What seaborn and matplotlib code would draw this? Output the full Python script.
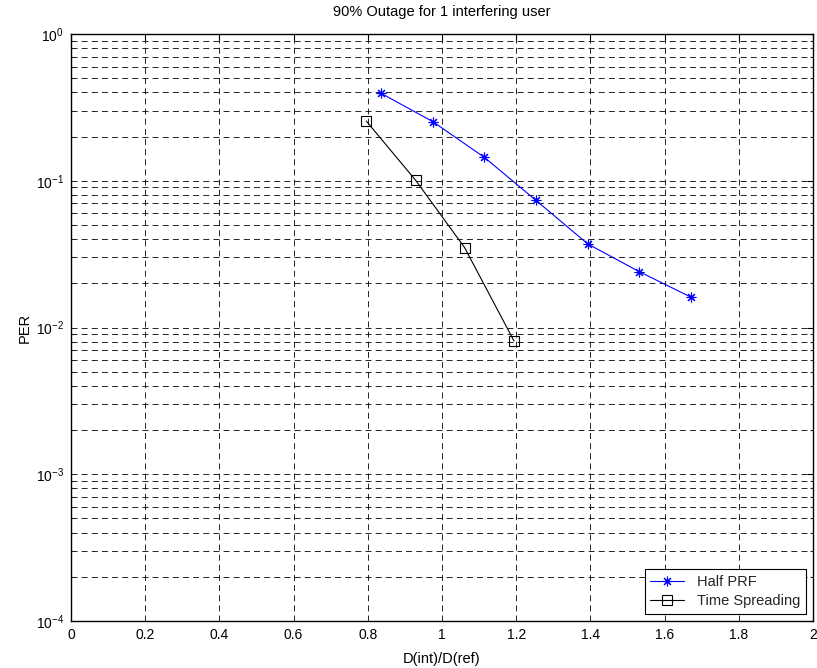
import matplotlib
matplotlib.use("Agg")
import matplotlib.pyplot as plt
from matplotlib.lines import Line2D
from matplotlib.ticker import LogLocator, NullFormatter
import numpy as np
import pandas as pd
import seaborn as sns

# Packet error rate vs. normalised interferer distance
half_prf_x = [0.836, 0.975, 1.114, 1.253, 1.393, 1.532, 1.671]
half_prf_per = [0.394, 0.253, 0.1445, 0.0736, 0.0371, 0.0240, 0.0161]

time_spread_x = [0.796, 0.929, 1.061, 1.194]
time_spread_per = [0.255, 0.1007, 0.0350, 0.0081]

series_names = ["Half PRF", "Time Spreading"]
x_ticks = [0, 0.2, 0.4, 0.6, 0.8, 1.0, 1.2, 1.4, 1.6, 1.8, 2.0]
x_tick_labels = ["0", "0.2", "0.4", "0.6", "0.8", "1", "1.2", "1.4", "1.6", "1.8", "2"]

df_half = pd.DataFrame({"ratio": half_prf_x, "per": half_prf_per, "scheme": series_names[0]})
df_time = pd.DataFrame({"ratio": time_spread_x, "per": time_spread_per, "scheme": series_names[1]})

sns.set_theme(style="white")
plt.rcParams["font.family"] = ["Liberation Sans", "DejaVu Sans"]
plt.rcParams["mathtext.fontset"] = "custom"
plt.rcParams["mathtext.rm"] = "Liberation Sans"
plt.rcParams["mathtext.it"] = "Liberation Sans:italic"
plt.rcParams["axes.unicode_minus"] = False
plt.rcParams["lines.scale_dashes"] = False

fs = 10
fs_big = 10.5
blue = "#0000ff"
fig = plt.figure(figsize=(8.17, 6.68), dpi=100)
ax = fig.add_axes([71 / 817, 47 / 668, 742 / 817, 587 / 668])

asterisk = (8, 2, 0)
sns.lineplot(data=df_half, x="ratio", y="per", sort=False, ax=ax, color=blue,
             marker=asterisk, markersize=7, markeredgewidth=0.8, markeredgecolor=blue,
             markerfacecolor=blue, linewidth=0.8, legend=False)
sns.lineplot(data=df_time, x="ratio", y="per", sort=False, ax=ax, color="black",
             marker="s", markersize=7, markerfacecolor="none", markeredgecolor="black",
             markeredgewidth=0.8, linewidth=0.8, legend=False)

ax.set_yscale("log")
ax.set_xlim(0, 2)
ax.set_ylim(1e-4, 1)
ax.set_xticks(x_ticks)
ax.set_xticklabels(x_tick_labels)
ax.yaxis.set_major_locator(LogLocator(base=10, numticks=10))
ax.yaxis.set_minor_locator(LogLocator(base=10, subs=np.arange(2, 10), numticks=20))
ax.yaxis.set_minor_formatter(NullFormatter())

grid_dash = (0, (4.3, 3.0))
ax.grid(True, which="major", axis="both", color="black", linestyle=grid_dash, linewidth=0.6)
ax.grid(True, which="minor", axis="y", color="black", linestyle=grid_dash, linewidth=0.6)
ax.set_axisbelow(True)

for side in ["top", "right", "bottom", "left"]:
    ax.spines[side].set_visible(True)
    ax.spines[side].set_color("black")
    ax.spines[side].set_linewidth(1.0)

ax.tick_params(which="major", direction="in", length=4, width=0.8, top=True, right=True,
               labelsize=fs, colors="black", pad=5)
ax.tick_params(which="minor", direction="in", length=2.5, width=0.8, top=False, right=True,
               left=True)

ax.set_title("90% Outage for 1 interfering user", fontsize=fs_big, pad=13, color="black")
ax.set_xlabel("D(int)/D(ref)", fontsize=fs_big, labelpad=7, color="black")
ax.set_ylabel("PER", fontsize=fs_big, labelpad=3, color="black")

handles = [
    Line2D([], [], color=blue, marker=asterisk, markersize=7, markeredgewidth=0.8,
           linewidth=0.8),
    Line2D([], [], color="black", marker="s", markersize=7, markerfacecolor="none",
           markeredgewidth=0.8, linewidth=0.8),
]
leg = ax.legend(handles, series_names, loc="lower right", fontsize=fs_big, frameon=True,
                fancybox=False, framealpha=1, edgecolor="black", borderaxespad=0.5,
                handlelength=2.3, borderpad=0.38, labelspacing=0.37, handletextpad=0.9)
leg.get_frame().set_linewidth(0.8)

fig.savefig("out.png", dpi=100)
